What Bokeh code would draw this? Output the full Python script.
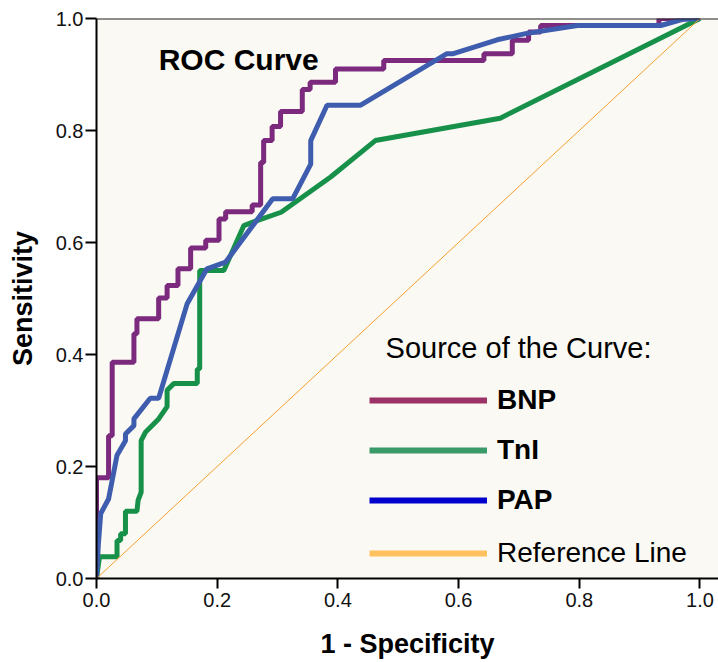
from bokeh.plotting import figure
from bokeh.models import Range1d, Span, Label, Legend, LegendItem, NumeralTickFormatter, Title
from bokeh.embed import file_html
from bokeh.resources import INLINE

# ---- data (1 - specificity, sensitivity) ----
bnp_fpr = [0, 0, 0.02, 0.02, 0.026, 0.026, 0.062, 0.062, 0.067, 0.067, 0.103, 0.103,
           0.117, 0.117, 0.135, 0.135, 0.156, 0.156, 0.181, 0.181, 0.203, 0.203,
           0.214, 0.214, 0.258, 0.258, 0.272, 0.272, 0.277, 0.277, 0.291, 0.291,
           0.305, 0.305, 0.341, 0.341, 0.354, 0.354, 0.396, 0.396, 0.476, 0.476,
           0.642, 0.642, 0.689, 0.689, 0.716, 0.716, 0.736, 0.736, 0.932, 0.932, 1.0]
bnp_tpr = [0, 0.18, 0.18, 0.255, 0.255, 0.386, 0.386, 0.437, 0.437, 0.464, 0.464, 0.501,
           0.501, 0.523, 0.523, 0.553, 0.553, 0.59, 0.59, 0.604, 0.604, 0.642,
           0.642, 0.655, 0.655, 0.667, 0.667, 0.743, 0.743, 0.782, 0.782, 0.807,
           0.807, 0.834, 0.834, 0.873, 0.873, 0.886, 0.886, 0.91, 0.91, 0.925,
           0.925, 0.937, 0.937, 0.961, 0.961, 0.976, 0.976, 0.9875, 0.9875, 1.0, 1.0]

tni_fpr = [0, 0.005, 0.034, 0.034, 0.04, 0.04, 0.048, 0.048, 0.067, 0.069, 0.074, 0.074,
           0.081, 0.103, 0.117, 0.117, 0.128, 0.167, 0.167, 0.171, 0.171, 0.211,
           0.244, 0.266, 0.306, 0.388, 0.462, 0.669, 1.0]
tni_tpr = [0, 0.039, 0.039, 0.068, 0.068, 0.08, 0.08, 0.12, 0.12, 0.14, 0.154, 0.246,
           0.261, 0.285, 0.307, 0.336, 0.348, 0.348, 0.374, 0.374, 0.55, 0.55,
           0.63, 0.639, 0.654, 0.717, 0.782, 0.822, 1.0]

pap_fpr = [0, 0.003, 0.007, 0.02, 0.034, 0.048, 0.048, 0.062, 0.062, 0.089, 0.103,
           0.150, 0.183, 0.214, 0.292, 0.325, 0.355, 0.355, 0.382, 0.437, 0.58,
           0.59, 0.664, 0.711, 0.797, 0.935, 0.97, 1.0]
pap_tpr = [0, 0.06, 0.116, 0.142, 0.22, 0.246, 0.258, 0.273, 0.285, 0.322, 0.322,
           0.49, 0.553, 0.565, 0.678, 0.678, 0.74, 0.782, 0.845, 0.845, 0.937,
           0.937, 0.962, 0.973, 0.9875, 0.9875, 0.998, 1.0]

ref_x = [0, 1]
ref_y = [0, 1]

ticks = [0.0, 0.2, 0.4, 0.6, 0.8, 1.0]
series_names = ["BNP", "TnI", "PAP"]
ref_name = "Reference Line"

FONT = "Liberation Sans"
NAN = float("nan")

p = figure(frame_width=622, frame_height=560,
           x_range=Range1d(0, 1.0307), y_range=Range1d(0, 1.0),
           output_backend="svg", toolbar_location=None,
           min_border_left=96, min_border_top=18, min_border_right=0, min_border_bottom=0)
p.background_fill_color = "#FAF9F3"
p.border_fill_color = "white"
p.outline_line_color = None
p.grid.visible = False

for ax in (p.xaxis, p.yaxis):
    ax.ticker = ticks
    ax.formatter = NumeralTickFormatter(format="0.0")
    ax.axis_line_width = 2
    ax.axis_line_color = "black"
    ax.major_tick_line_width = 2
    ax.major_tick_line_color = "black"
    ax.major_tick_in = 0
    ax.minor_tick_line_color = None
    ax.major_label_text_font = FONT
    ax.major_label_text_font_size = "20px"
    ax.major_label_text_color = "#111111"
    ax.axis_label_text_font = FONT
    ax.axis_label_text_font_style = "bold"
    ax.axis_label_text_font_size = "27px"
    ax.axis_label_text_color = "black"

p.xaxis.major_tick_out = 10
p.xaxis.major_label_standoff = 4
p.yaxis.major_tick_out = 11
p.yaxis.major_label_standoff = 2
p.yaxis.axis_label = "Sensitivity"
p.yaxis.axis_label_standoff = 15

# x axis title below the axis
p.add_layout(Title(text="1 - Specificity", text_font=FONT, text_font_size="27px",
                   text_font_style="bold", text_color="black", align="center",
                   offset=-8, standoff=35), "below")

# top frame line
p.add_layout(Span(location=1.0, dimension="width", line_color="#222222", line_width=2))

# curves
p.line(bnp_fpr, bnp_tpr, line_color="#7B2A7E", line_width=5)
p.line(tni_fpr, tni_tpr, line_color="#17914A", line_width=5)
p.line(pap_fpr, pap_tpr, line_color="#3F5DAE", line_width=5)
p.line(ref_x, ref_y, line_color="#F5A030", line_width=1)

# legend swatches (SPSS legend colours)
sw_bnp = p.line([NAN], [NAN], line_color="#9B3366", line_width=6)
sw_tni = p.line([NAN], [NAN], line_color="#3A9A6A", line_width=6)
sw_pap = p.line([NAN], [NAN], line_color="#0000CC", line_width=6)
sw_ref = p.line([NAN], [NAN], line_color="#FFC060", line_width=6)

leg1 = Legend(items=[LegendItem(label=series_names[0], renderers=[sw_bnp]),
                     LegendItem(label=series_names[1], renderers=[sw_tni]),
                     LegendItem(label=series_names[2], renderers=[sw_pap])],
              location=(273, 58))
leg2 = Legend(items=[LegendItem(label=ref_name, renderers=[sw_ref])],
              location=(273, 5))
for lg, style in ((leg1, "bold"), (leg2, "normal")):
    lg.glyph_width = 118
    lg.glyph_height = 40
    lg.label_height = 40
    lg.label_standoff = 10
    lg.spacing = 10
    lg.padding = 0
    lg.margin = 0
    lg.border_line_color = None
    lg.background_fill_alpha = 0
    lg.label_text_font = FONT
    lg.label_text_font_size = "28px"
    lg.label_text_font_style = style
    lg.label_text_color = "black"
    p.add_layout(lg, "center")

p.add_layout(Label(x=0.479, y=0.411, text="Source of the Curve:", text_font=FONT,
                   text_font_size="29px", text_baseline="middle", text_color="black"))
p.add_layout(Label(x=0.103, y=0.927, text="ROC Curve", text_font=FONT,
                   text_font_size="30px", text_font_style="bold",
                   text_baseline="middle", text_color="black"))

open("out.html", "w").write(file_html(p, INLINE))
